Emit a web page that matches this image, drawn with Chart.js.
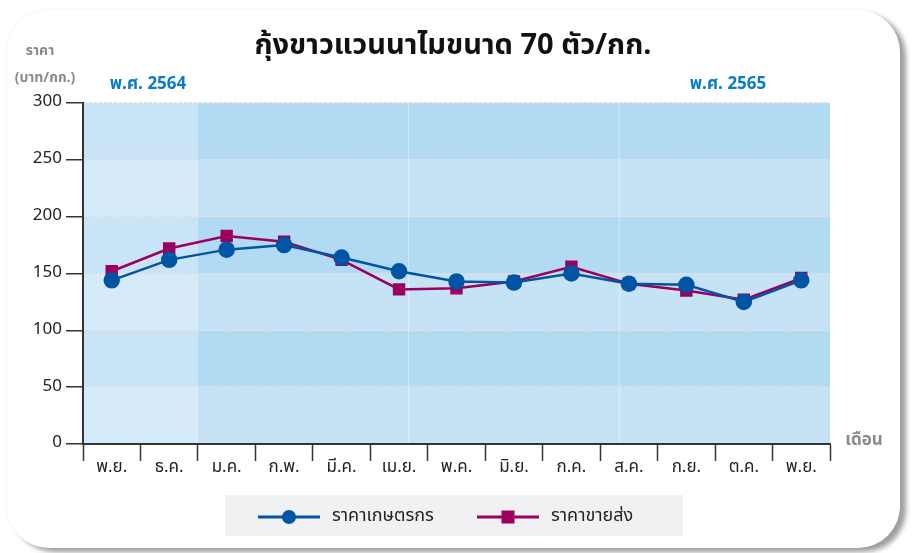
<!DOCTYPE html>
<html>
<head>
<meta charset="utf-8">
<script src="https://cdn.jsdelivr.net/npm/chart.js@4.4.0/dist/chart.umd.min.js"></script>
<style>
  html, body { margin: 0; padding: 0; background: #ffffff; }
  .wrap { position: relative; width: 912px; height: 553px; overflow: hidden; }
  .card {
    position: absolute; left: 7px; top: 10px; width: 893px; height: 538px;
    background: #fff; border-radius: 42px;
    box-shadow: 6px 4px 5px rgba(0,0,0,0.38), -1px -1px 3px rgba(0,0,0,0.04);
  }
  canvas { position: absolute; left: 0; top: 0; }
</style>
</head>
<body>
<div class="wrap">
  <div class="card"></div>
  <canvas id="shrimpChart" width="912" height="553"></canvas>
</div>
<script>
  const months = ["พ.ย.", "ธ.ค.", "ม.ค.", "ก.พ.", "มี.ค.", "เม.ย.", "พ.ค.",
                  "มิ.ย.", "ก.ค.", "ส.ค.", "ก.ย.", "ต.ค.", "พ.ย."];
  const farmPrice = [144, 162, 171, 175, 164, 152, 143, 142, 150, 141, 140, 125, 144];
  const wholesalePrice = [152, 172, 183, 178, 162, 136, 137, 143, 156, 141, 135, 127, 146];
  const yTicks = [0, 50, 100, 150, 200, 250, 300];
  const farmLabel = "ราคาเกษตรกร";
  const wholesaleLabel = "ราคาขายส่ง";

  const thaiFont = "'Noto Sans Thai', 'Noto Sans', 'DejaVu Sans', sans-serif";

  // background bands, titles and the legend box
  const decor = {
    id: "decor",
    beforeDraw(chart) {
      const ctx = chart.ctx;
      const a = chart.chartArea;
      const x = chart.scales.x, y = chart.scales.y;
      const split = (x.getPixelForValue(1) + x.getPixelForValue(2)) / 2;
      ctx.save();
      for (let i = 0; i < yTicks.length - 1; i++) {
        const top = y.getPixelForValue(yTicks[i + 1]);
        const bot = y.getPixelForValue(yTicks[i]);
        const dark = i % 2 === 1;
        ctx.fillStyle = dark ? "#c8e4f6" : "#d6ebf9";
        ctx.fillRect(a.left, top, split - a.left, bot - top);
        ctx.fillStyle = dark ? "#b2daf2" : "#c6e3f6";
        ctx.fillRect(split, top, a.right - split, bot - top);
      }
      // faint panel lines
      ctx.strokeStyle = "rgba(255,255,255,0.4)";
      ctx.lineWidth = 1;
      const third = (a.right - split) / 3;
      [1, 2].forEach(k => {
        ctx.beginPath();
        ctx.moveTo(split + third * k, a.top);
        ctx.lineTo(split + third * k, a.bottom);
        ctx.stroke();
      });

      ctx.fillStyle = "#111";
      ctx.font = "bold 29px " + thaiFont;
      ctx.textAlign = "center";
      ctx.textBaseline = "middle";
      ctx.fillText("กุ้งขาวแวนนาไมขนาด 70 ตัว/กก.", 453, 48);

      ctx.fillStyle = "#8a8a8a";
      ctx.font = "bold 14px " + thaiFont;
      ctx.fillText("ราคา", 40, 52);
      ctx.fillText("(บาท/กก.)", 45, 79);
      ctx.font = "bold 17px " + thaiFont;
      ctx.fillText("เดือน", 864, 442);

      ctx.fillStyle = "#0a7cc4";
      ctx.font = "bold 17px " + thaiFont;
      ctx.fillText("พ.ศ. 2564", 148, 86);
      ctx.fillText("พ.ศ. 2565", 728, 86);

      // legend
      ctx.fillStyle = "#f0f1f3";
      ctx.fillRect(225, 495, 458, 41);
      const items = [
        { ds: chart.data.datasets[0], x: 258 },
        { ds: chart.data.datasets[1], x: 477 }
      ];
      items.forEach(it => {
        const cy = 517;
        ctx.strokeStyle = it.ds.borderColor;
        ctx.lineWidth = 3;
        ctx.beginPath();
        ctx.moveTo(it.x, cy);
        ctx.lineTo(it.x + 62, cy);
        ctx.stroke();
        ctx.fillStyle = it.ds.borderColor;
        if (it.ds.pointStyle === "circle") {
          ctx.beginPath();
          ctx.arc(it.x + 31, cy, 7, 0, Math.PI * 2);
          ctx.fill();
        } else {
          ctx.fillRect(it.x + 31 - 6.5, cy - 6.5, 13, 13);
        }
        ctx.fillStyle = "#222";
        ctx.font = "18px " + thaiFont;
        ctx.textAlign = "left";
        ctx.fillText(it.ds.label, it.x + 74, cy);
      });
      ctx.restore();
    }
  };

  const ctx = document.getElementById("shrimpChart").getContext("2d");
  const chart = new Chart(ctx, {
    type: "line",
    data: {
      labels: months,
      datasets: [
        {
          label: farmLabel,
          data: farmPrice,
          borderColor: "#0054a4",
          backgroundColor: "#0054a4",
          borderWidth: 2.5,
          pointStyle: "circle",
          pointRadius: 7,
          pointHoverRadius: 7,
          tension: 0,
        },
        {
          label: wholesaleLabel,
          data: wholesalePrice,
          borderColor: "#9b005e",
          backgroundColor: "#9b005e",
          borderWidth: 2.5,
          pointStyle: "rect",
          pointRadius: 7,
          pointHoverRadius: 7,
          tension: 0,
        },
      ],
    },
    options: {
      responsive: false,
      animation: false,
      layout: { padding: { left: 0, top: 103, right: 82, bottom: 0 } },
      plugins: {
        legend: { display: false },
        tooltip: { enabled: false },
      },
      scales: {
        x: {
          offset: true,
          afterFit(scale) { scale.height = 109; },
          grid: {
            offset: true,
            drawOnChartArea: false,
            drawTicks: true,
            tickLength: 17,
            tickColor: "#333",
            tickWidth: 1.5,
          },
          border: { display: true, color: "#333", width: 2 },
          ticks: {
            color: "#222",
            padding: -3,
            font: { family: thaiFont, size: 17 },
            autoSkip: false,
            maxRotation: 0,
          },
        },
        y: {
          min: 0,
          max: 300,
          afterFit(scale) { scale.width = 83; },
          afterBuildTicks(scale) { scale.ticks = yTicks.map(v => ({ value: v })); },
          grid: {
            color: "#dedede",
            lineWidth: 1.5,
            drawTicks: true,
            tickLength: 17,
            tickColor: "#333",
            tickWidth: 1.5,
            tickBorderDash: [],
          },
          border: { display: true, color: "#333", width: 2, dash: [3, 2] },
          ticks: {
            color: "#222",
            padding: 4,
            font: { family: thaiFont, size: 17 },
          },
        },
      },
    },
    plugins: [decor],
  });
</script>
</body>
</html>
